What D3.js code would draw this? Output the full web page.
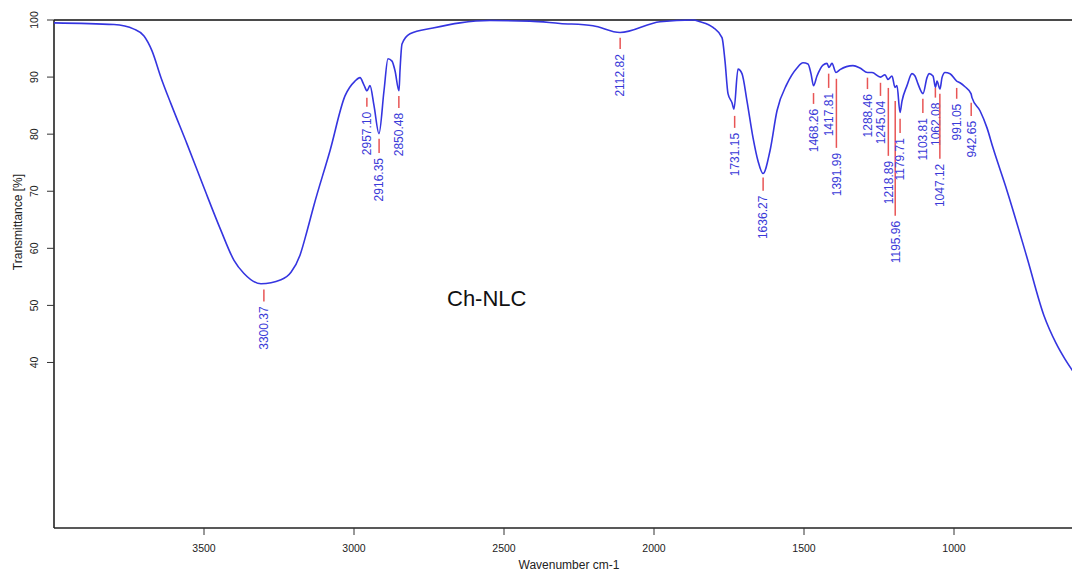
<!DOCTYPE html>
<html>
<head>
<meta charset="utf-8">
<script src="https://cdn.jsdelivr.net/npm/d3@7"></script>
<style>
  html, body { margin: 0; padding: 0; background: #fff; }
  svg { display: block; }
</style>
</head>
<body>
<svg id="chart" width="1072" height="578"></svg>
<script>
// ---- data ----
const wavenumber = [4000, 3800, 3733.3, 3700, 3673.3, 3643.3, 3610, 3556.7, 3500, 3443.3, 3400, 3366.7, 3310, 3243.3, 3210, 3180, 3156.7, 3133.3, 3080, 3030, 2996.7, 2980, 2966.7, 2956.7, 2946.7, 2933.3, 2916.7, 2900, 2886.7, 2873.3, 2863.3, 2850, 2846.7, 2840, 2813.3, 2736.7, 2646.7, 2546.7, 2413.3, 2313.3, 2203.3, 2113.3, 1980, 1870, 1846.7, 1803.3, 1773.3, 1763.3, 1753.3, 1740, 1733.3, 1720, 1706.7, 1690, 1670, 1653.3, 1636.7, 1613.3, 1590, 1556.7, 1523.3, 1503.3, 1486.7, 1476.7, 1468.3, 1456.7, 1436.7, 1423.3, 1416.7, 1406.7, 1393.3, 1380, 1336.7, 1313.3, 1288.3, 1273.3, 1245, 1230, 1220, 1206.7, 1196.7, 1190, 1180, 1173.3, 1156.7, 1140, 1130, 1120, 1103.3, 1090, 1083.3, 1070, 1061.7, 1056.7, 1046.7, 1040, 1030, 1013.3, 991, 980, 963.3, 943.3, 940, 913.3, 890, 870, 823.3, 756.7, 700, 660, 630, 600];
const transmittance = [99.5, 99.2, 98.4, 97.2, 94.6, 89.9, 85.3, 78.3, 70.6, 63.1, 57.9, 55.6, 53.8, 54.5, 55.8, 58.8, 63.0, 67.6, 77.1, 86.7, 89.3, 89.9, 88.6, 87.6, 88.5, 85.0, 80.1, 87.6, 93.2, 92.8, 91.1, 87.6, 91.1, 95.8, 97.6, 98.6, 99.5, 99.9, 99.8, 99.4, 99.0, 97.8, 99.7, 100, 99.7, 98.7, 96.9, 92.8, 87.1, 85.5, 84.4, 91.4, 90.6, 85.8, 79.4, 75.3, 73.1, 77.1, 84.1, 88.8, 91.6, 92.5, 92.3, 90.6, 88.5, 90.2, 92.1, 92.4, 91.7, 92.4, 90.8, 91.3, 92.0, 91.6, 90.8, 90.8, 90.0, 90.4, 89.6, 90.2, 88.2, 88.5, 83.8, 85.8, 88.5, 90.6, 90.2, 88.8, 87.1, 89.9, 90.6, 90.2, 88.2, 89.3, 87.9, 89.9, 90.8, 90.6, 89.3, 89.0, 88.3, 87.1, 86.4, 84.1, 81.1, 77.6, 70.1, 58.4, 48.2, 43.4, 40.6, 38.2];

const peakLabel = ["3300.37", "2957.10", "2916.35", "2850.48", "2112.82", "1731.15", "1636.27", "1468.26", "1417.81", "1391.99", "1288.46", "1245.04", "1218.89", "1195.96", "1179.71", "1103.81", "1062.08", "1047.12", "991.05", "942.65"];
const peakWn = [3300.37, 2957.10, 2916.35, 2850.48, 2112.82, 1731.15, 1636.27, 1468.26, 1417.81, 1391.99, 1288.46, 1245.04, 1218.89, 1195.96, 1179.71, 1103.81, 1062.08, 1047.12, 991.05, 942.65];
const peakTickTop = [52.8, 86.4, 79.2, 86.7, 96.9, 83.2, 72.4, 87.2, 90.6, 89.7, 89.9, 89.0, 88.1, 85.8, 82.7, 86.2, 88.1, 87.1, 88.1, 85.5];
const peakTickBottom = [50.7, 84.8, 76.7, 84.6, 94.9, 81.1, 70.1, 85.3, 88.1, 77.6, 87.9, 86.7, 76.2, 65.7, 80.2, 83.7, 86.4, 75.7, 86.2, 83.2];

const xTicks = [3500, 3000, 2500, 2000, 1500, 1000];
const yTicks = [40, 50, 60, 70, 80, 90, 100];

const sampleName = "Ch-NLC";
const xTitle = "Wavenumber cm-1";
const yTitle = "Transmittance [%]";

// ---- drawing ----
const svg = d3.select("#chart");
const mLeft = 54, mRight = 1074, mTop = 20, mBottom = 528;

const x = d3.scaleLinear().domain([4000, 600]).range([mLeft, mRight]);
const y = d3.scaleLinear().domain([11, 100]).range([mBottom, mTop]);

const lineBlue = "#3535e0";
const textBlue = "#3a3ad8";
const red = "#e85555";

// frame
svg.append("line").attr("x1", mLeft).attr("x2", 1072).attr("y1", mTop).attr("y2", mTop)
  .attr("stroke", "#4a4a4a").attr("stroke-width", 2.2);
svg.append("line").attr("x1", mLeft).attr("x2", mLeft).attr("y1", mTop).attr("y2", mBottom)
  .attr("stroke", "#222").attr("stroke-width", 1.6);
svg.append("line").attr("x1", mLeft).attr("x2", 1072).attr("y1", mBottom).attr("y2", mBottom)
  .attr("stroke", "#222").attr("stroke-width", 1.6);

// x axis
const xg = svg.append("g");
xTicks.forEach(t => {
  xg.append("line").attr("x1", x(t)).attr("x2", x(t)).attr("y1", mBottom).attr("y2", mBottom + 7)
    .attr("stroke", "#333").attr("stroke-width", 1);
  xg.append("text").attr("x", x(t)).attr("y", 552).attr("text-anchor", "middle")
    .attr("font-family", "Liberation Sans, Arial, sans-serif").attr("font-size", 10.5)
    .attr("fill", "#222").text(t);
});
svg.append("text").attr("x", 569).attr("y", 569).attr("text-anchor", "middle")
  .attr("font-family", "Liberation Sans, Arial, sans-serif").attr("font-size", 12)
  .attr("fill", "#222").text(xTitle);

// y axis
const yg = svg.append("g");
yTicks.forEach(t => {
  yg.append("line").attr("x1", mLeft - 7).attr("x2", mLeft).attr("y1", y(t)).attr("y2", y(t))
    .attr("stroke", "#333").attr("stroke-width", 1);
  yg.append("text").attr("transform", `translate(38,${y(t)}) rotate(-90)`)
    .attr("text-anchor", "middle")
    .attr("font-family", "Liberation Sans, Arial, sans-serif").attr("font-size", 10.5)
    .attr("fill", "#222").text(t);
});
svg.append("text").attr("transform", `translate(22,222) rotate(-90)`)
  .attr("text-anchor", "middle")
  .attr("font-family", "Liberation Sans, Arial, sans-serif").attr("font-size", 12)
  .attr("fill", "#222").text(yTitle);

// spectrum
const data = wavenumber.map((w, i) => ({ w, t: transmittance[i] }));
const line = d3.line().x(d => x(d.w)).y(d => y(d.t)).curve(d3.curveMonotoneX);
svg.append("path").datum(data).attr("d", line).attr("fill", "none")
  .attr("stroke", lineBlue).attr("stroke-width", 1.6);

// peak annotations
const pg = svg.append("g");
peakWn.forEach((w, i) => {
  pg.append("line").attr("x1", x(w)).attr("x2", x(w))
    .attr("y1", y(peakTickTop[i])).attr("y2", y(peakTickBottom[i]))
    .attr("stroke", red).attr("stroke-width", 1.5);
  pg.append("text")
    .attr("transform", `translate(${x(w)},${y(peakTickBottom[i]) + 5}) rotate(-90)`)
    .attr("text-anchor", "end").attr("dy", "0.36em")
    .attr("font-family", "Liberation Sans, Arial, sans-serif").attr("font-size", 12)
    .attr("fill", textBlue).text(peakLabel[i]);
});

// sample name
svg.append("text").attr("x", 447).attr("y", 306)
  .attr("font-family", "Liberation Sans, Arial, sans-serif").attr("font-size", 22)
  .attr("fill", "#111").text(sampleName);
</script>
</body>
</html>
